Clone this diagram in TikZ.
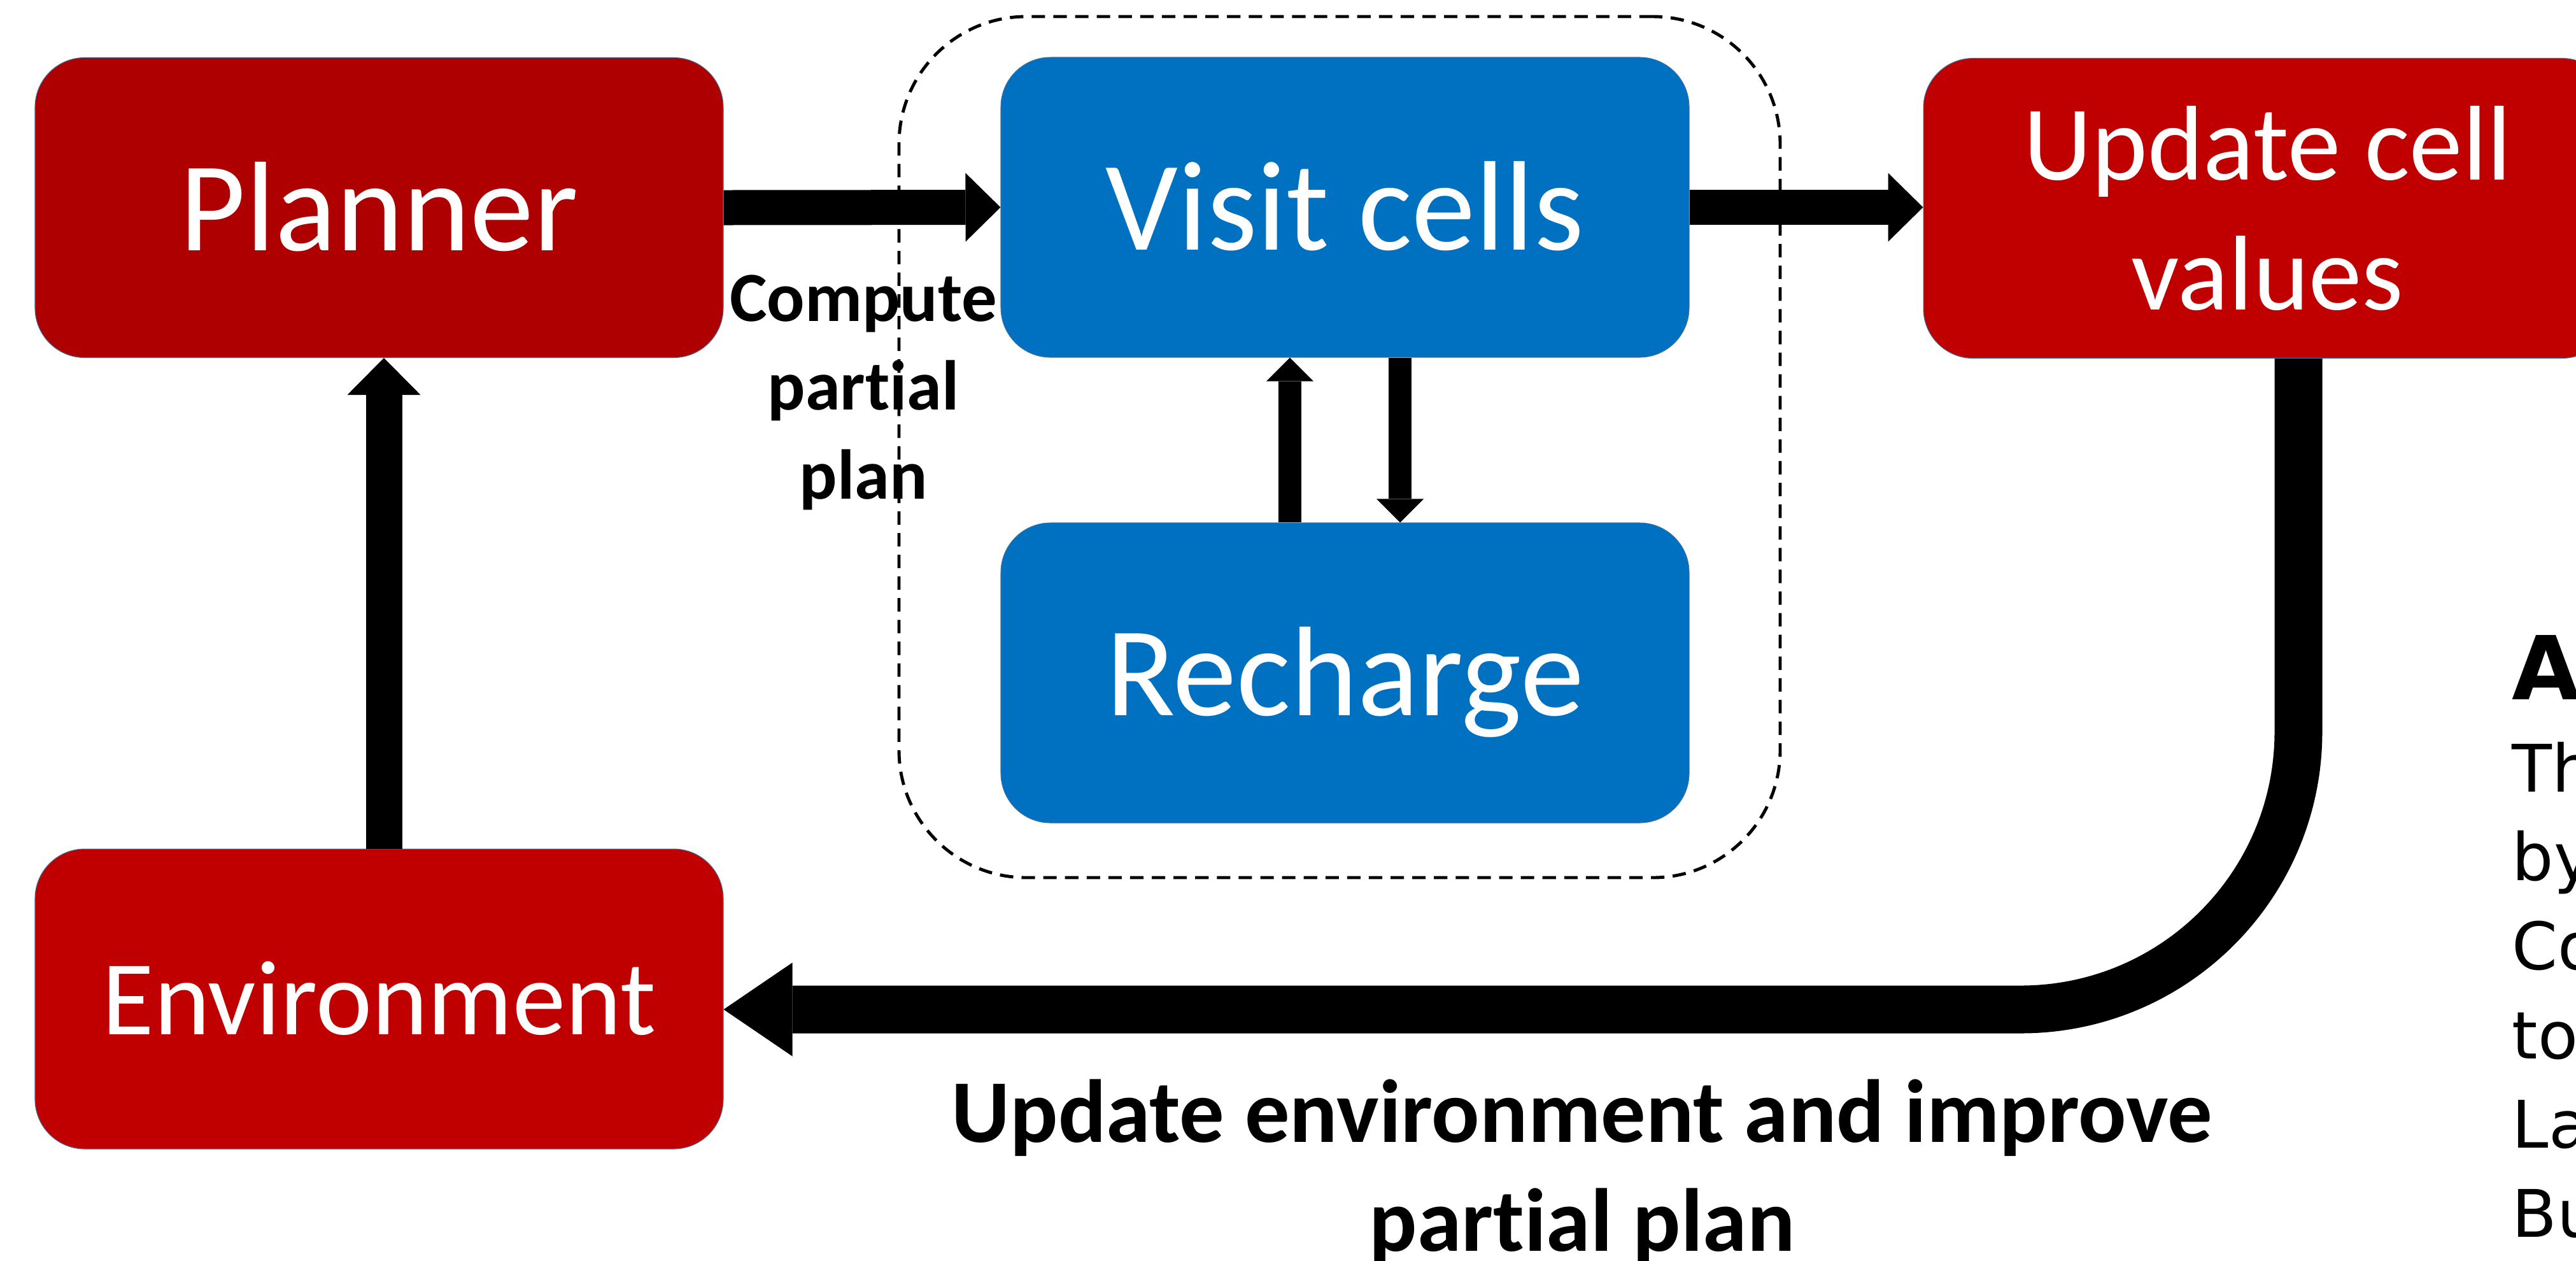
\documentclass[tikz,border=0pt]{standalone}
\usepackage{fontspec}
\setmainfont{Carlito}[Ligatures={NoCommon,NoContextual}, RawFeature={-liga;-clig;-calt;-dlig}]
\newfontfamily\dejavu{DejaVu Sans}
\usetikzlibrary{arrows.meta}
\definecolor{plannerred}{HTML}{AE0000}
\definecolor{boxred}{HTML}{C00000}
\definecolor{boxblue}{HTML}{0070C0}
\definecolor{edgeblue}{HTML}{41719C}
\newcommand\mlines[1]{\begin{tabular}[t]{@{}c@{}}#1\end{tabular}}
\begin{document}
\begin{tikzpicture}[
  box/.style={rounded corners=0.78cm, minimum width=10.81cm, minimum height=4.71cm,
    inner sep=0pt, text=white, draw=edgeblue, line width=0.3pt},
  bigtext/.style={font=\fontsize{57}{68}\selectfont, text height=38.3pt, text depth=0pt},
  envtext/.style={font=\fontsize{47.5}{58.3}\selectfont, text height=32pt, text depth=0pt},
  updtext/.style={font=\fontsize{47.5}{58.3}\selectfont, text height=40pt, text depth=65.6pt},
  fatarrow/.style={line width=0.55cm, -{Triangle[length=0.55cm,width=1.08cm,line width=0pt]}},
  slimarrow/.style={line width=0.36cm, -{Triangle[length=0.37cm,width=0.74cm,line width=0pt]}},
  uparrow/.style={line width=0.57cm, -{Triangle[length=0.58cm,width=1.15cm,line width=0pt]}},
  backarrow/.style={line width=0.75cm, rounded corners=4.36cm, -{Triangle[length=1.08cm,width=1.47cm,line width=0pt]}},
  dashbox/.style={draw=black, line width=1.4pt, dash pattern=on 6pt off 3.7pt, rounded corners=2cm,
    minimum width=13.84cm, minimum height=13.52cm, inner sep=0pt},
  lbl/.style={inner sep=0pt, text=black}
]
\useasboundingbox (0,0) rectangle (40.46,-19.79);
\clip (0,0) rectangle (40.46,-19.79);

% dashed group
\node[dashbox] (group) at (21.04,-7.02) {};

% boxes
\node[box, fill=plannerred, bigtext] (planner) at (5.955,-3.26) {Planner};
\node[box, fill=boxblue, bigtext] (visit) at (21.125,-3.255) {Visit cells};
\node[box, fill=boxblue, bigtext] (recharge) at (21.125,-10.565) {Recharge};
\node[box, fill=boxred, updtext] (update) at (35.615,-3.27) {\fontsize{47.5}{58.3}\selectfont\mlines{Update cell\\values}};
\node[box, fill=boxred, envtext] (env) at (5.955,-15.685) {Environment};

% helper coordinates
\coordinate (ux) at (20.26,0);
\coordinate (dx) at (21.99,0);
\coordinate (ex) at (6.03,0);
\coordinate (cx) at (36.10,0);
\coordinate (ey) at (0,-15.85);

% connectors
\draw[fatarrow] (planner.east) -- (visit.west);
\draw[fatarrow] (visit.east) -- (visit.east -| update.west);
\draw[slimarrow] (recharge.north -| ux) -- (visit.south -| ux);
\draw[slimarrow] (visit.south -| dx) -- (recharge.north -| dx);
\draw[uparrow] (env.north -| ex) -- (planner.south -| ex);
\draw[backarrow] (update.south -| cx) |- (env.east |- ey);

% labels
\node[lbl, anchor=base, font=\bfseries\fontsize{31.5}{39.8}\selectfont] (compute) at (13.56,-5.04)
  {\mlines{Compute\\part\kern0pt ial\\plan}};
\node[lbl, anchor=base, font=\bfseries\fontsize{40}{48.9}\selectfont] (improve) at (24.85,-17.93)
  {\mlines{Update environment and improve\\part\kern0pt ial plan}};

% right-hand text (cut off by the page edge)
\node[lbl, anchor=base west, font=\dejavu\bfseries\fontsize{39.4}{47}\selectfont] (rtitle) at (39.45,-10.98) {A};
\node[lbl, anchor=base west, font=\dejavu\fontsize{29.3}{39.8}\selectfont] (rbody) at (39.45,-12.43)
  {\begin{tabular}[t]{@{}l@{}}Th\\by\\Co\\to\\La\\Bu\end{tabular}};
\end{tikzpicture}
\end{document}
